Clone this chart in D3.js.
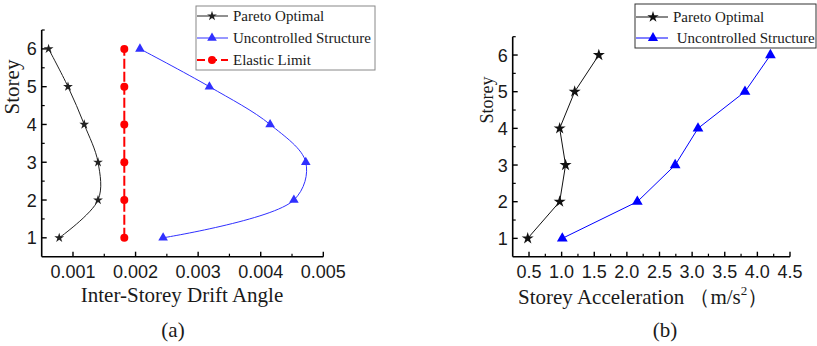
<!DOCTYPE html>
<html>
<head>
<meta charset="utf-8">
<script src="https://cdn.jsdelivr.net/npm/d3@7"></script>
<style>
  html, body { margin: 0; padding: 0; background: #fff; }
  svg { display: block; }
  .tick-label { font-family: Arial, "Liberation Sans", sans-serif; font-size: 18px; fill: #1a1a1a; }
  .serif { font-family: "Times New Roman", "Liberation Serif", serif; fill: #1a1a1a; }
</style>
</head>
<body>
<svg id="chart" width="817" height="346"></svg>
<script>
// ---------- DATA ----------
const storeys = [1, 2, 3, 4, 5, 6];
// Panel (a): inter-storey drift angle
const driftPareto       = [0.00078, 0.00140, 0.00140, 0.00118, 0.00092, 0.00061];
const driftUncontrolled = [0.00244, 0.00453, 0.00472, 0.00415, 0.00318, 0.00207];
const driftElastic      = [0.00182, 0.00182, 0.00182, 0.00182, 0.00182, 0.00182];
const driftTicks = [0.001, 0.002, 0.003, 0.004, 0.005];
const driftTickLabels = ["0.001", "0.002", "0.003", "0.004", "0.005"];
// Panel (b): storey acceleration (m/s^2)
const accPareto       = [0.48, 0.97, 1.06, 0.97, 1.20, 1.57];
const accUncontrolled = [1.01, 2.16, 2.74, 3.09, 3.81, 4.20];
const accTicks = [0.5, 1.0, 1.5, 2.0, 2.5, 3.0, 3.5, 4.0, 4.5];
const storeyTicks = [1, 2, 3, 4, 5, 6];

const legendA = ["Pareto Optimal", "Uncontrolled Structure", "Elastic Limit"];
const legendB = ["Pareto Optimal", " Uncontrolled Structure"];

// ---------- DRAW ----------
const svg = d3.select("#chart");
const BLUE_A = "#3030ff", BLUE = "#0000ff", BLACK = "#111", RED = "#ff0000";

function drawAxes(g, x, y, xMajor, xMinor, xFmt, yMajor, yMinor) {
  const xa = g.append("g").attr("transform", `translate(0,${y.range()[0]})`);
  xa.append("line").attr("x1", x.range()[0]).attr("x2", x.range()[1])
    .attr("stroke", "#000").attr("stroke-width", 1.6);
  xa.selectAll(".mj").data(xMajor).join("line")
    .attr("x1", d => x(d)).attr("x2", d => x(d)).attr("y1", 0).attr("y2", -5)
    .attr("stroke", "#000").attr("stroke-width", 1.4);
  xa.selectAll(".mn").data(xMinor).join("line")
    .attr("x1", d => x(d)).attr("x2", d => x(d)).attr("y1", 0).attr("y2", -3)
    .attr("stroke", "#000").attr("stroke-width", 1.2);
  xa.selectAll("text").data(xMajor).join("text")
    .attr("class", "tick-label").attr("x", d => x(d)).attr("y", 21)
    .attr("text-anchor", "middle").text(xFmt);
  const ya = g.append("g").attr("transform", `translate(${x.range()[0]},0)`);
  ya.append("line").attr("y1", y.range()[0]).attr("y2", y.range()[1])
    .attr("stroke", "#000").attr("stroke-width", 1.6);
  ya.selectAll(".mj").data(yMajor).join("line")
    .attr("y1", d => y(d)).attr("y2", d => y(d)).attr("x1", 0).attr("x2", 5)
    .attr("stroke", "#000").attr("stroke-width", 1.4);
  ya.selectAll(".mn").data(yMinor).join("line")
    .attr("y1", d => y(d)).attr("y2", d => y(d)).attr("x1", 0).attr("x2", 3)
    .attr("stroke", "#000").attr("stroke-width", 1.2);
  ya.selectAll("text").data(yMajor).join("text")
    .attr("class", "tick-label").attr("x", -5).attr("y", d => y(d) + 6.5)
    .attr("text-anchor", "end").text(d => d);
}

function series(g, x, y, xs, color, curve, symbol, symSize, dash, width) {
  const pts = storeys.map((s, i) => [xs[i], s]);
  g.append("path").datum(pts)
    .attr("d", d3.line().x(d => x(d[0])).y(d => y(d[1])).curve(curve))
    .attr("fill", "none").attr("stroke", color).attr("stroke-width", width || 1)
    .attr("stroke-dasharray", dash || null);
  g.selectAll(null).data(pts).join("path")
    .attr("transform", d => `translate(${x(d[0])},${y(d[1])})`)
    .attr("d", d3.symbol().type(symbol).size(symSize))
    .attr("fill", color);
}

// ----- Panel (a) -----
const gA = svg.append("g");
const xA = d3.scaleLinear().domain([0.0005, 0.005]).range([41.7, 323.3]);
const yA = d3.scaleLinear().domain([0.5, 6.5]).range([256.7, 30]);
drawAxes(gA, xA, yA, driftTicks, [0.0015, 0.0025, 0.0035, 0.0045], (d, i) => driftTickLabels[i],
  storeyTicks, [1.5, 2.5, 3.5, 4.5, 5.5, 6.5]);
series(gA, xA, yA, driftElastic, RED, d3.curveLinear, d3.symbolCircle, 50, "10,3", 2);
series(gA, xA, yA, driftPareto, "#222", d3.curveCatmullRom.alpha(0.5), d3.symbolStar, 30);
series(gA, xA, yA, driftUncontrolled, BLUE_A, d3.curveCatmullRom.alpha(0.5), d3.symbolTriangle, 40);

gA.append("text").attr("class", "serif").attr("font-size", 21)
  .attr("transform", "translate(19,87) rotate(-90)").attr("text-anchor", "middle").text("Storey");
gA.append("text").attr("class", "serif").attr("font-size", 21)
  .attr("x", 182).attr("y", 302).attr("text-anchor", "middle").text("Inter-Storey Drift Angle");
gA.append("text").attr("class", "serif").attr("font-size", 21)
  .attr("x", 173).attr("y", 337).attr("text-anchor", "middle").text("(a)");

// legend (a)
const lgA = gA.append("g");
lgA.append("rect").attr("x", 196).attr("y", 6).attr("width", 179).attr("height", 64)
  .attr("fill", "#fff").attr("stroke", "#888").attr("stroke-width", 1);
const legAStyles = [
  {c: "#222", s: d3.symbolStar, sz: 30, dash: null, w: 1},
  {c: BLUE_A, s: d3.symbolTriangle, sz: 40, dash: null, w: 1},
  {c: RED, s: d3.symbolCircle, sz: 50, dash: "8,4", w: 2}
];
legendA.forEach((t, i) => {
  const yy = [16, 38, 60][i], st = legAStyles[i];
  lgA.append("line").attr("x1", 197).attr("x2", 228).attr("y1", yy).attr("y2", yy)
    .attr("stroke", st.c).attr("stroke-width", st.w).attr("stroke-dasharray", st.dash);
  lgA.append("path").attr("transform", `translate(212,${yy})`)
    .attr("d", d3.symbol().type(st.s).size(st.sz)).attr("fill", st.c);
  lgA.append("text").attr("class", "serif").attr("font-size", 15)
    .attr("x", 233).attr("y", yy + 5).text(t);
});

// ----- Panel (b) -----
const gB = svg.append("g");
const xB = d3.scaleLinear().domain([0.25, 4.5]).range([512.7, 790]);
const yB = d3.scaleLinear().domain([0.5, 6.5]).range([256.7, 36.7]);
drawAxes(gB, xB, yB, accTicks, [0.75, 1.25, 1.75, 2.25, 2.75, 3.25, 3.75, 4.25], d => d.toFixed(1),
  storeyTicks, [1.5, 2.5, 3.5, 4.5, 5.5, 6.5]);
series(gB, xB, yB, accPareto, BLACK, d3.curveLinear, d3.symbolStar, 45);
series(gB, xB, yB, accUncontrolled, BLUE, d3.curveLinear, d3.symbolTriangle, 50);

gB.append("text").attr("class", "serif").attr("font-size", 18)
  .attr("transform", "translate(493,100) rotate(-90)").attr("text-anchor", "middle").text("Storey");
const xt = gB.append("text").attr("class", "serif").attr("font-size", 21)
  .attr("x", 518).attr("y", 304);
xt.append("tspan").text("Storey Acceleration （m/s");
xt.append("tspan").attr("font-size", 13).attr("dy", -9).text("2");
xt.append("tspan").attr("dy", 9).text("）");
gB.append("text").attr("class", "serif").attr("font-size", 21)
  .attr("x", 665).attr("y", 337).attr("text-anchor", "middle").text("(b)");

// legend (b)
const lgB = gB.append("g");
lgB.append("rect").attr("x", 635).attr("y", 4).attr("width", 181).attr("height", 44)
  .attr("fill", "#fff").attr("stroke", "#333").attr("stroke-width", 1);
const legBStyles = [
  {c: BLACK, s: d3.symbolStar, sz: 40, tx: 673},
  {c: BLUE, s: d3.symbolTriangle, sz: 45, tx: 673}
];
legendB.forEach((t, i) => {
  const yy = [17, 38][i], st = legBStyles[i];
  lgB.append("line").attr("x1", 636).attr("x2", 668).attr("y1", yy).attr("y2", yy)
    .attr("stroke", st.c).attr("stroke-width", 1);
  lgB.append("path").attr("transform", `translate(653,${yy})`)
    .attr("d", d3.symbol().type(st.s).size(st.sz)).attr("fill", st.c);
  lgB.append("text").attr("class", "serif").attr("font-size", 15)
    .attr("x", st.tx).attr("y", yy + 5).style("white-space", "pre").text(t);
});
</script>
</body>
</html>
